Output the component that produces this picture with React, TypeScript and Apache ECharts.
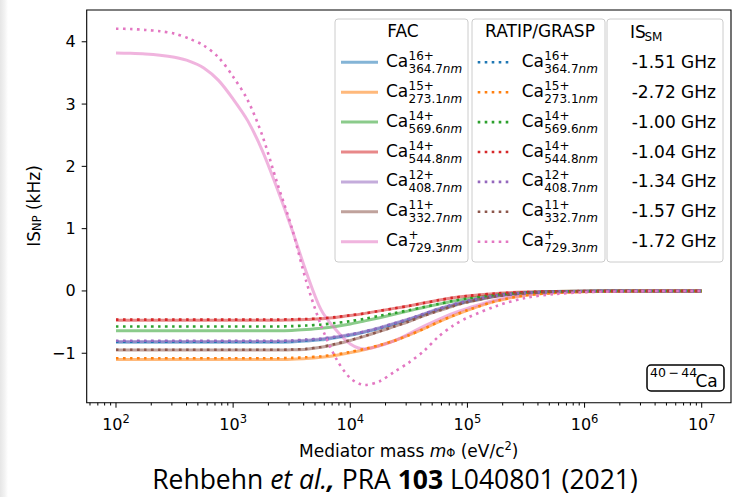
import React, { useEffect, useRef } from "react";
import * as echarts from "echarts";

// Mediator mass grid (eV/c^2)
const massEV = [
  100, 133, 178, 237, 316, 422, 562, 750, 1000, 1334, 1778, 2371, 3162, 4217, 5623, 7499,
  10000, 13335, 17783, 23714, 31623, 42170, 56234, 74989, 100000, 177828, 316228, 562341,
  1000000, 3162278, 10000000,
];

// FAC (solid) IS_NP in kHz
const facBlue = [-0.825, -0.825, -0.825, -0.825, -0.825, -0.825, -0.825, -0.825, -0.825, -0.825, -0.825, -0.825, -0.82, -0.805, -0.785, -0.75, -0.71, -0.66, -0.6, -0.53, -0.46, -0.38, -0.3, -0.23, -0.17, -0.08, -0.033, -0.013, -0.005, 0, 0];
const facOrange = [-1.1, -1.1, -1.1, -1.1, -1.1, -1.1, -1.1, -1.1, -1.1, -1.1, -1.1, -1.1, -1.095, -1.085, -1.065, -1.035, -0.99, -0.94, -0.875, -0.8, -0.71, -0.61, -0.5, -0.4, -0.31, -0.16, -0.07, -0.03, -0.012, -0.002, 0];
const facGreen = [-0.64, -0.64, -0.64, -0.64, -0.64, -0.64, -0.64, -0.64, -0.64, -0.64, -0.64, -0.64, -0.635, -0.62, -0.6, -0.57, -0.53, -0.48, -0.43, -0.375, -0.32, -0.265, -0.215, -0.165, -0.125, -0.06, -0.025, -0.01, -0.004, 0, 0];
const facRed = [-0.47, -0.47, -0.47, -0.47, -0.47, -0.47, -0.47, -0.47, -0.47, -0.47, -0.47, -0.47, -0.465, -0.46, -0.445, -0.425, -0.395, -0.36, -0.32, -0.28, -0.24, -0.195, -0.15, -0.11, -0.08, -0.04, -0.018, -0.007, -0.003, 0, 0];
const facPurple = [-0.81, -0.81, -0.81, -0.81, -0.81, -0.81, -0.81, -0.81, -0.81, -0.81, -0.81, -0.81, -0.805, -0.79, -0.77, -0.74, -0.7, -0.65, -0.59, -0.52, -0.45, -0.37, -0.29, -0.22, -0.16, -0.075, -0.03, -0.012, -0.005, 0, 0];
const facBrown = [-0.95, -0.95, -0.95, -0.95, -0.95, -0.95, -0.95, -0.95, -0.95, -0.95, -0.95, -0.95, -0.945, -0.935, -0.905, -0.855, -0.795, -0.725, -0.65, -0.57, -0.49, -0.4, -0.32, -0.245, -0.18, -0.085, -0.035, -0.014, -0.005, 0, 0];
const facPink = [3.82, 3.815, 3.805, 3.785, 3.75, 3.69, 3.58, 3.38, 3.08, 2.73, 2.25, 1.65, 1.0, 0.3, -0.3, -0.62, -0.85, -0.93, -0.88, -0.8, -0.69, -0.57, -0.46, -0.36, -0.28, -0.14, -0.06, -0.025, -0.01, -0.002, 0];

// RATIP/GRASP (dotted) IS_NP in kHz
const ratipBlue = [-0.815, -0.815, -0.815, -0.815, -0.815, -0.815, -0.815, -0.815, -0.815, -0.815, -0.815, -0.815, -0.81, -0.795, -0.775, -0.745, -0.705, -0.655, -0.595, -0.525, -0.455, -0.375, -0.295, -0.225, -0.165, -0.078, -0.032, -0.013, -0.005, 0, 0];
const ratipOrange = [-1.08, -1.08, -1.08, -1.08, -1.08, -1.08, -1.08, -1.08, -1.08, -1.08, -1.08, -1.08, -1.075, -1.065, -1.05, -1.02, -0.98, -0.93, -0.87, -0.8, -0.71, -0.61, -0.5, -0.4, -0.31, -0.16, -0.07, -0.03, -0.012, -0.002, 0];
const ratipGreen = [-0.57, -0.57, -0.57, -0.57, -0.57, -0.57, -0.57, -0.57, -0.57, -0.57, -0.57, -0.57, -0.565, -0.555, -0.54, -0.515, -0.485, -0.445, -0.4, -0.355, -0.31, -0.26, -0.21, -0.16, -0.12, -0.06, -0.025, -0.01, -0.004, 0, 0];
const ratipRed = [-0.46, -0.46, -0.46, -0.46, -0.46, -0.46, -0.46, -0.46, -0.46, -0.46, -0.46, -0.46, -0.455, -0.45, -0.44, -0.42, -0.39, -0.36, -0.32, -0.28, -0.24, -0.195, -0.15, -0.11, -0.08, -0.04, -0.018, -0.007, -0.003, 0, 0];
const ratipPurple = [-0.8, -0.8, -0.8, -0.8, -0.8, -0.8, -0.8, -0.8, -0.8, -0.8, -0.8, -0.8, -0.795, -0.78, -0.765, -0.735, -0.7, -0.65, -0.59, -0.52, -0.45, -0.37, -0.29, -0.22, -0.16, -0.075, -0.03, -0.012, -0.005, 0, 0];
const ratipBrown = [-0.945, -0.945, -0.945, -0.945, -0.945, -0.945, -0.945, -0.945, -0.945, -0.945, -0.945, -0.945, -0.94, -0.93, -0.9, -0.85, -0.79, -0.72, -0.65, -0.57, -0.49, -0.4, -0.32, -0.245, -0.18, -0.085, -0.035, -0.014, -0.005, 0, 0];
const ratipPink = [4.21, 4.205, 4.19, 4.17, 4.13, 4.05, 3.94, 3.75, 3.44, 3.06, 2.49, 1.74, 1.02, 0.15, -0.55, -1.07, -1.4, -1.51, -1.45, -1.3, -1.15, -0.97, -0.74, -0.56, -0.43, -0.24, -0.11, -0.05, -0.02, -0.003, 0];

// Legend texts
const speciesSup = ["16+", "15+", "14+", "14+", "12+", "11+", "+"];
const speciesWave = ["364.7", "273.1", "569.6", "544.8", "408.7", "332.7", "729.3"];
const isSM = ["-1.51 GHz", "-2.72 GHz", "-1.00 GHz", "-1.04 GHz", "-1.34 GHz", "-1.57 GHz", "-1.72 GHz"];

// Axis ticks
const xMajorTicks = [1e2, 1e3, 1e4, 1e5, 1e6, 1e7];
const yMajorTicks = [-1, 0, 1, 2, 3, 4];

const colors = ["#1f77b4", "#ff7f0e", "#2ca02c", "#d62728", "#9467bd", "#8c564b", "#e377c2"];
const facSeries = [facBlue, facOrange, facGreen, facRed, facPurple, facBrown, facPink];
const ratipSeries = [ratipBlue, ratipOrange, ratipGreen, ratipRed, ratipPurple, ratipBrown, ratipPink];

const X_MIN = 56.234;
const X_MAX = 17782794;
const Y_MIN = -1.794;
const Y_MAX = 4.51;
const FONT = "DejaVu Sans";

export default function App() {
  const ref = useRef<HTMLDivElement>(null);

  useEffect(() => {
    const chart = echarts.init(ref.current as HTMLDivElement, null, { renderer: "svg" });

    const minorX: number[] = [];
    for (let e = 1; e <= 7; e++) {
      for (let k = 2; k <= 9; k++) {
        const v = k * Math.pow(10, e);
        if (v > X_MIN && v < X_MAX) minorX.push(v);
      }
    }
    const xTickData = [
      ...xMajorTicks.map((v) => [v, Y_MIN, 5]),
      ...minorX.map((v) => [v, Y_MIN, 2.8]),
    ];

    const series: any[] = [];
    facSeries.forEach((vals, i) => {
      series.push({
        type: "line",
        name: "FAC " + i,
        data: massEV.map((m, k) => [m, vals[k]]),
        symbol: "none",
        showSymbol: false,
        smooth: 0.3,
        z: 2,
        emphasis: { disabled: true },
        lineStyle: { color: colors[i], width: 3, opacity: 0.55 },
      });
    });
    ratipSeries.forEach((vals, i) => {
      series.push({
        type: "line",
        name: "RATIP " + i,
        data: massEV.map((m, k) => [m, vals[k]]),
        symbol: "none",
        showSymbol: false,
        smooth: 0.3,
        z: 3,
        emphasis: { disabled: true },
        lineStyle: { color: colors[i], width: 2.6, type: [2.6, 4.4], cap: "butt" },
      });
    });
    series.push({
      type: "custom",
      clip: false,
      silent: true,
      z: 5,
      data: xTickData,
      renderItem: (_p: any, api: any) => {
        const p = api.coord([api.value(0), Y_MIN]);
        const len = api.value(2);
        return {
          type: "line",
          shape: { x1: p[0], y1: p[1], x2: p[0], y2: p[1] + len },
          style: { stroke: "#000", lineWidth: 1 },
        };
      },
    });
    series.push({
      type: "custom",
      clip: false,
      silent: true,
      z: 5,
      data: yMajorTicks.map((v) => [X_MIN, v]),
      renderItem: (_p: any, api: any) => {
        const p = api.coord([X_MIN, api.value(1)]);
        return {
          type: "line",
          shape: { x1: p[0] - 5, y1: p[1], x2: p[0], y2: p[1] },
          style: { stroke: "#000", lineWidth: 1 },
        };
      },
    });

    const els: any[] = [];
    els.push({
      type: "rect",
      shape: { x: 0, y: 0, width: 8, height: 497 },
      style: {
        fill: new echarts.graphic.LinearGradient(0, 0, 1, 0, [
          { offset: 0, color: "#e6e6e6" },
          { offset: 0.6, color: "#f3f3f3" },
          { offset: 1, color: "#ffffff" },
        ]),
      },
      z: 1,
    });
    const boxes = [
      [335, 19, 133, 243],
      [472, 19, 133, 243],
      [607, 19, 116, 243],
    ];
    boxes.forEach((b) =>
      els.push({
        type: "rect",
        shape: { x: b[0], y: b[1], width: b[2], height: b[3], r: 3 },
        style: { fill: "rgba(255,255,255,0.8)", stroke: "#cccccc", lineWidth: 1 },
        z: 10,
      })
    );
    const txt = (x: number, y: number, text: string, size: number, align = "left", extra: any = {}) => ({
      type: "text",
      x,
      y,
      z: 11,
      style: {
        text,
        fill: "#000",
        fontSize: size,
        fontFamily: FONT,
        align,
        verticalAlign: "middle",
        ...extra,
      },
    });
    els.push(txt(403, 31, "FAC", 17, "center"));
    els.push(txt(540, 31, "RATIP/GRASP", 17, "center"));
    els.push(txt(630, 32, "IS", 17));
    els.push(txt(644.5, 37, "SM", 12));

    const subRich = {
      n: { fontSize: 12, fontFamily: FONT, fill: "#000" },
      i: { fontSize: 12, fontFamily: FONT, fontStyle: "italic", fill: "#000" },
    };
    for (let i = 0; i < 7; i++) {
      const ly = 62.3 + 29.9 * i;
      els.push({
        type: "line",
        z: 11,
        shape: { x1: 341, y1: ly, x2: 378, y2: ly },
        style: { stroke: colors[i], lineWidth: 3, opacity: 0.55 },
      });
      els.push({
        type: "line",
        z: 11,
        shape: { x1: 477.7, y1: ly, x2: 512.7, y2: ly },
        style: { stroke: colors[i], lineWidth: 2.6, lineDash: [2.6, 4.4], lineCap: "butt" },
      });
      [386, 521.7].forEach((cx) => {
        els.push(txt(cx, ly - 1.5, "Ca", 17));
        els.push(txt(cx + 22.5, ly - 6.5, speciesSup[i], 12));
        els.push(
          txt(cx + 22.5, ly + 6.5, `{n|${speciesWave[i]}}{i|nm}`, 12, "left", { rich: subRich })
        );
      });
      els.push(txt(716, ly - 0.5, isSM[i], 17, "right"));
    }

    // 40-44Ca annotation box
    els.push({
      type: "rect",
      z: 11,
      shape: { x: 647, y: 365, width: 77, height: 26, r: 4 },
      style: { fill: "#fff", stroke: "#000", lineWidth: 1.5 },
    });
    els.push(txt(650, 372, "40\u2009\u2212\u200944", 12.5));
    els.push(txt(695.5, 381, "Ca", 17));

    // axis titles
    els.push({
      type: "text",
      x: 33,
      y: 206,
      rotation: Math.PI / 2,
      z: 11,
      style: {
        text: "{a|IS}{s|NP}{a| (kHz)}",
        align: "center",
        verticalAlign: "middle",
        rich: {
          a: { fontSize: 17, fontFamily: FONT, fill: "#000", lineHeight: 19, verticalAlign: "bottom" },
          s: { fontSize: 11.5, fontFamily: FONT, fill: "#000", lineHeight: 8, verticalAlign: "bottom" },
        },
      },
    });
    els.push({
      type: "text",
      x: 408.8,
      y: 449.5,
      z: 11,
      style: {
        text: "{a|Mediator mass }{i|m}{s|\u03A6}{a| (eV/c}{p|2}{a|)}",
        align: "center",
        verticalAlign: "middle",
        rich: {
          a: { fontSize: 17, fontFamily: FONT, fill: "#000", lineHeight: 19, verticalAlign: "bottom" },
          i: { fontSize: 17, fontFamily: FONT, fontStyle: "italic", fill: "#000", lineHeight: 19, verticalAlign: "bottom" },
          s: { fontSize: 11.5, fontFamily: FONT, fill: "#000", lineHeight: 8, verticalAlign: "bottom" },
          p: { fontSize: 11.5, fontFamily: FONT, fill: "#000", lineHeight: 8, verticalAlign: "top" },
        },
      },
    });
    // citation
    const CF = "Open Sans";
    const CS = 26.5;
    const CL = 27;
    els.push({
      type: "text",
      x: 395,
      y: 479,
      z: 11,
      style: {
        text: "{n|Rehbehn }{i|et al.}{bi|,}{n| PRA }{b|103}{n| L040801 (2021)}",
        align: "center",
        verticalAlign: "middle",
        rich: {
          n: { fontSize: CS, lineHeight: CL, fontFamily: CF, fill: "#000" },
          i: { fontSize: CS, lineHeight: CL, fontFamily: CF, fontStyle: "italic", fill: "#000" },
          bi: { fontSize: CS, lineHeight: CL, fontFamily: CF, fontStyle: "italic", fontWeight: "bold", fill: "#000" },
          b: { fontSize: CS, lineHeight: CL, fontFamily: CF, fontWeight: "bold", fill: "#000" },
        },
      },
    });

    const option: any = {
      animation: false,
      backgroundColor: "#ffffff",
      grid: {
        left: 86.7,
        top: 10,
        right: 15,
        bottom: 94.3,
        show: true,
        borderColor: "#000",
        borderWidth: 1.1,
        backgroundColor: "transparent",
      },
      xAxis: {
        type: "log",
        logBase: 10,
        min: X_MIN,
        max: X_MAX,
        axisLine: { show: false },
        axisTick: { show: false },
        splitLine: { show: false },
        axisLabel: {
          margin: 10,
          showMinLabel: false,
          showMaxLabel: false,
          formatter: (v: number) => `{b|10}{s|${Math.round(Math.log10(v))}}`,
          rich: {
            b: { fontSize: 16, fontFamily: FONT, color: "#000", lineHeight: 20, verticalAlign: "bottom" },
            s: { fontSize: 11.5, fontFamily: FONT, color: "#000", lineHeight: 10, verticalAlign: "top" },
          },
        },
      },
      yAxis: {
        type: "value",
        min: Y_MIN,
        max: Y_MAX,
        axisLine: { show: false },
        axisTick: { show: false },
        splitLine: { show: false },
        axisLabel: {
          margin: 11,
          fontSize: 16,
          fontFamily: FONT,
          color: "#000",
          showMinLabel: false,
          showMaxLabel: false,
          formatter: (v: number) => (v < 0 ? "\u2212" + Math.abs(v) : String(v)),
        },
      },
      series,
      graphic: { elements: els },
    };
    chart.setOption(option);
    return () => chart.dispose();
  }, []);

  return (
    <div
      ref={ref}
      style={{ position: "fixed", left: 0, top: 0, width: 746, height: 497, background: "#fff" }}
    />
  );
}
